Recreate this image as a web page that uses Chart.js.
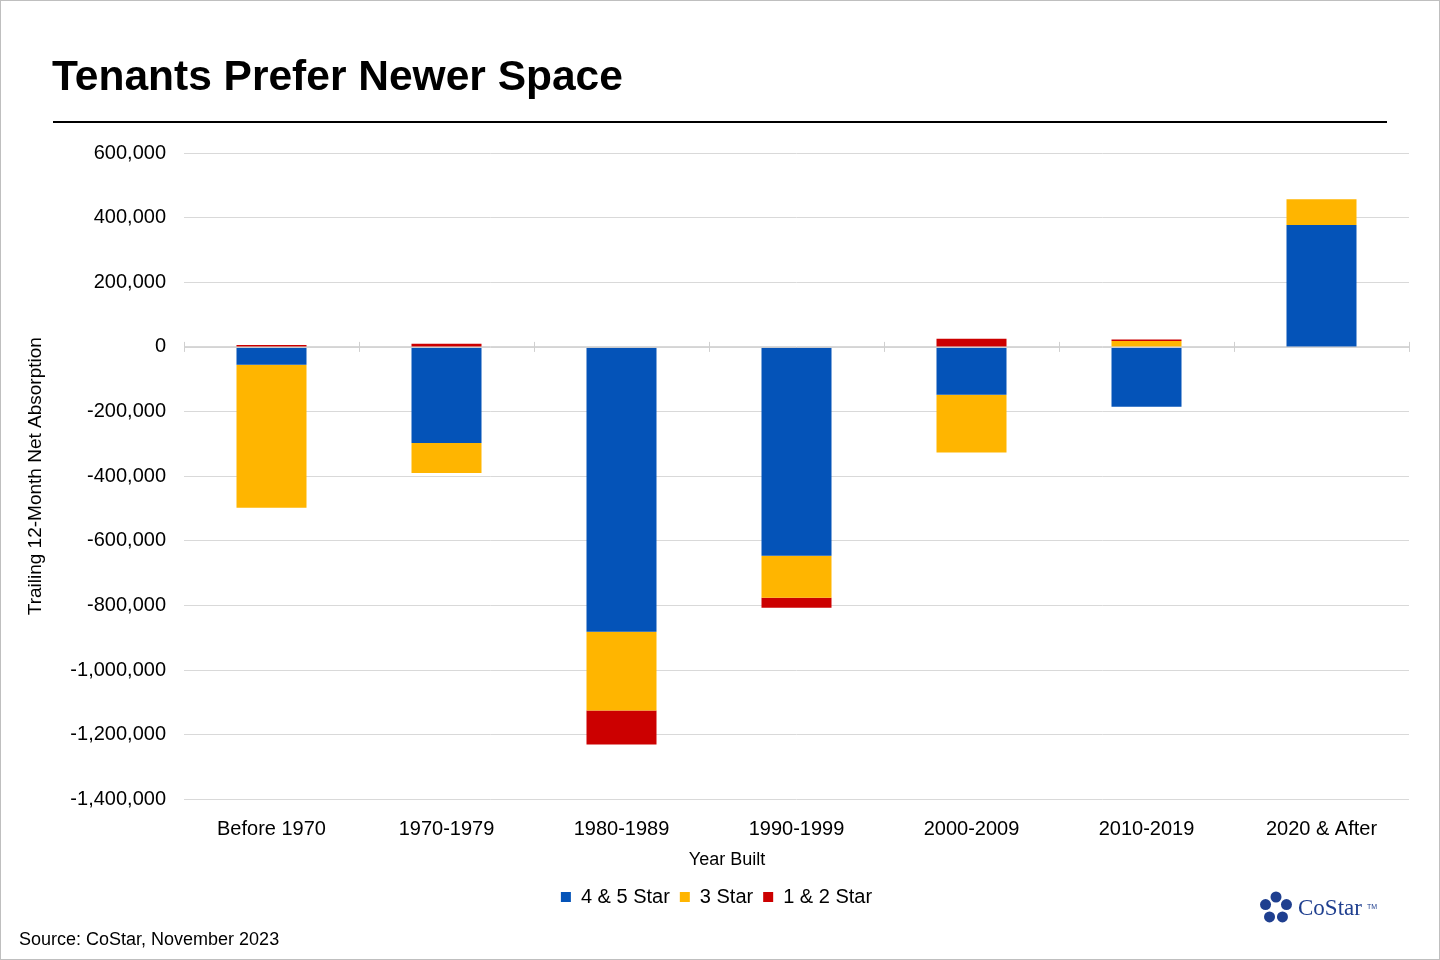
<!DOCTYPE html>
<html lang="en">
<head>
<meta charset="UTF-8">
<title>Tenants Prefer Newer Space</title>
<script src="https://cdn.jsdelivr.net/npm/chart.js"></script>
<style>
  body { margin: 0; background: #fff; }
  #wrap { position: relative; width: 1440px; height: 960px; box-sizing: border-box; border: 1px solid #bfbfbf; }
</style>
</head>
<body>
<div id="wrap"><canvas id="chart" width="1438" height="958"></canvas></div>
<script>
const categories = ['Before 1970', '1970-1979', '1980-1989', '1990-1999', '2000-2009', '2010-2019', '2020 & After'];
const star45 = [-55000, -297000, -881000, -646000, -148000, -185000, 377000];
const star3 = [-443000, -93000, -244000, -130000, -179000, 18000, 80000];
const star12 = [6000, 10000, -105000, -31000, 25000, 5000, 0];
const yTicks = [600000, 400000, 200000, 0, -200000, -400000, -600000, -800000, -1000000, -1200000, -1400000];

const FONT = 'Liberation Sans, Arial, sans-serif';

// title, rule, source, x title, logo, zero-line ticks
const decor = {
  id: 'decor',
  afterDraw(chart) {
    const ctx = chart.ctx;
    ctx.save();
    ctx.fillStyle = '#000';
    ctx.font = 'bold 42.5px ' + FONT;
    ctx.textBaseline = 'middle';
    ctx.fillText('Tenants Prefer Newer Space', 51, 77);
    ctx.fillRect(52, 120, 1334, 2);
    ctx.font = '18px ' + FONT;
    ctx.fillText('Source: CoStar, November 2023', 18, 939);
    ctx.textAlign = 'center';
    ctx.fillText('Year Built', 726, 859);
    ctx.textAlign = 'left';
    // logo
    ctx.fillStyle = '#1f3f8f';
    const cx = 1275, cy = 907;
    for (let i = 0; i < 5; i++) {
      const a = -Math.PI / 2 + i * 2 * Math.PI / 5;
      ctx.beginPath();
      ctx.arc(cx + Math.cos(a) * 11, cy + Math.sin(a) * 11, 5.5, 0, Math.PI * 2);
      ctx.fill();
    }
    ctx.font = '23px Liberation Serif, serif';
    ctx.fillText('CoStar', 1297, 908);
    ctx.font = '7px ' + FONT;
    ctx.fillText('TM', 1366, 906);
    const x = chart.scales.x, y = chart.scales.y;
    const y0 = y.getPixelForValue(0);
    ctx.strokeStyle = '#d0d0d0';
    ctx.lineWidth = 1;
    ctx.beginPath();
    ctx.moveTo(x.left, y0 + 0.5); ctx.lineTo(x.right, y0 + 0.5);
    const step = (x.right - x.left) / categories.length;
    for (let i = 0; i <= categories.length; i++) {
      const px = Math.round(x.left + i * step) + 0.5;
      ctx.moveTo(px, y0 - 5); ctx.lineTo(px, y0 + 5);
    }
    ctx.stroke();
    ctx.restore();
  }
};

new Chart(document.getElementById('chart'), {
  type: 'bar',
  data: {
    labels: categories,
    datasets: [
      { label: '4 & 5 Star', data: star45, backgroundColor: '#0453b8' },
      { label: '3 Star', data: star3, backgroundColor: '#ffb500' },
      { label: '1 & 2 Star', data: star12, backgroundColor: '#cc0000' }
    ]
  },
  options: {
    responsive: false,
    animation: false,
    categoryPercentage: 1,
    barPercentage: 0.4,
    layout: { padding: { top: 152, left: 23, right: 30, bottom: 42 } },
    plugins: {
      legend: {
        position: 'bottom',
        labels: { font: { family: FONT, size: 20 }, color: '#000', boxWidth: 10, boxHeight: 10, padding: 10 }
      },
      tooltip: { enabled: false }
    },
    scales: {
      x: {
        stacked: true,
        grid: { display: false },
        border: { display: false },
        ticks: { font: { family: FONT, size: 20 }, color: '#000', padding: 10 },
        title: { display: true, text: 'Year Built', font: { family: FONT, size: 18 }, color: 'rgba(0,0,0,0)', padding: { top: 0 } }
      },
      y: {
        stacked: true,
        min: -1400000, max: 600000,
        afterFit(s) { s.width = 160; },
        afterBuildTicks(s) { s.ticks = yTicks.map(v => ({ value: v })); },
        grid: { color: '#d9d9d9', drawTicks: false },
        border: { display: false },
        ticks: { font: { family: FONT, size: 20 }, color: '#000', padding: 18, callback: v => v.toLocaleString('en-US') },
        title: { display: true, text: 'Trailing 12-Month Net Absorption', font: { family: FONT, size: 19 }, color: '#000', padding: 0 }
      }
    }
  },
  plugins: [decor]
});
</script>
</body>
</html>
